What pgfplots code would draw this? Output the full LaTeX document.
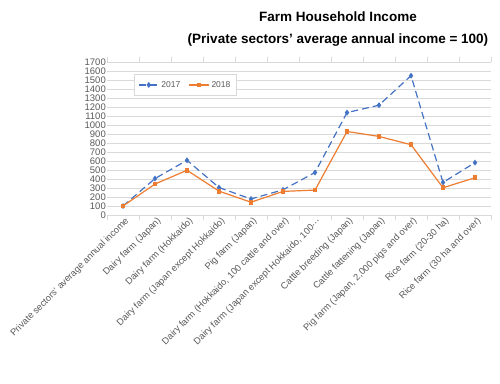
\documentclass[border=0pt]{standalone}
\usepackage{pgfplots}
\pgfplotsset{compat=1.18}
\usepackage{fontspec}
\setmainfont{Liberation Sans}
\newfontfamily\dejavu{DejaVu Sans}
\definecolor{blu}{HTML}{4472C4}
\definecolor{ora}{HTML}{ED7D31}
\definecolor{txt}{HTML}{595959}
\definecolor{grd}{HTML}{D9D9D9}
\begin{document}
\begin{tikzpicture}[x=1pt,y=1pt]
\path[use as bounding box] (0,0) rectangle (500,383);
\begin{axis}[
  at={(107pt,168pt)}, anchor=south west,
  scale only axis, width=384pt, height=153pt,
  xmin=-0.5, xmax=11.5, ymin=0, ymax=1700,
  ytick={0,100,...,1700},
  xtick={0,...,11},
  xticklabels={Private sectors' average annual income, Dairy farm (Japan), Dairy farm (Hokkaido), Dairy farm (Japan except Hokkaido), Pig farm (Japan), {Dairy farm (Hokkaido, 100 cattle and over)}, {Dairy farm (Japan except Hokkaido, 100{\dejavu ⋯}}, Cattle breeding (Japan), Cattle fattening (Japan), {Pig farm (Japan, 2,000 pigs and over)}, Rice farm (20-30 ha), Rice farm (30 ha and over)},
  x tick label style={rotate=45, anchor=north east, font=\fontsize{9.3}{10}\selectfont, text=txt, inner sep=2pt, xshift=2pt},
  y tick label style={font=\fontsize{9.5}{10}\selectfont, text=txt, inner sep=1pt},
  /pgf/number format/assume math mode=true,
  /pgf/number format/1000 sep={},
  major tick length=0pt,
  ymajorgrids, grid style={grd, line width=0.8pt},
  axis line style={draw=none},
  extra x ticks={-0.5,0.5,...,11.5},
  extra x tick labels={},
  extra x tick style={grid=none, major tick length=5pt, tick align=outside, tick style={draw=grd, line width=0.8pt}},
  clip=false,
  legend columns=2,
  legend style={at={(0.0703,0.9216)}, anchor=north west, draw=grd, font=\fontsize{8.5}{9}\selectfont, text=txt, inner xsep=4pt, inner ysep=5pt, /tikz/every even column/.append style={column sep=6pt}},
  legend image code/.code={\draw[#1] (0pt,0pt) -- (10pt,0pt) -- (20pt,0pt); \path[#1, solid] plot coordinates {(10pt,0pt)};},
  legend cell align=left,
]
\draw[grd, line width=0.8pt] (axis cs:-0.5,0) -- (axis cs:11.5,0);
\addplot[blu, line width=1.2pt, dash pattern=on 7pt off 4pt, mark=diamond*, mark size=2pt, mark options={solid}]
coordinates {(0,100)(1,405)(2,608)(3,305)(4,178)(5,280)(6,472)(7,1138)(8,1220)(9,1548)(10,362)(11,582)};
\addlegendentry{2017}
\addplot[ora, line width=1.2pt, mark=square*, mark size=1.8pt]
coordinates {(0,100)(1,344)(2,497)(3,265)(4,142)(5,262)(6,277)(7,928)(8,873)(9,781)(10,303)(11,414)};
\addlegendentry{2018}
\end{axis}
\node[font=\bfseries\fontsize{13.5}{15}\selectfont, anchor=center] at (338,366) {Farm Household Income};
\node[font=\bfseries\fontsize{13.5}{15}\selectfont, anchor=center] at (338,343) {(Private sectors' average annual income = 100)};
\end{tikzpicture}
\end{document}
